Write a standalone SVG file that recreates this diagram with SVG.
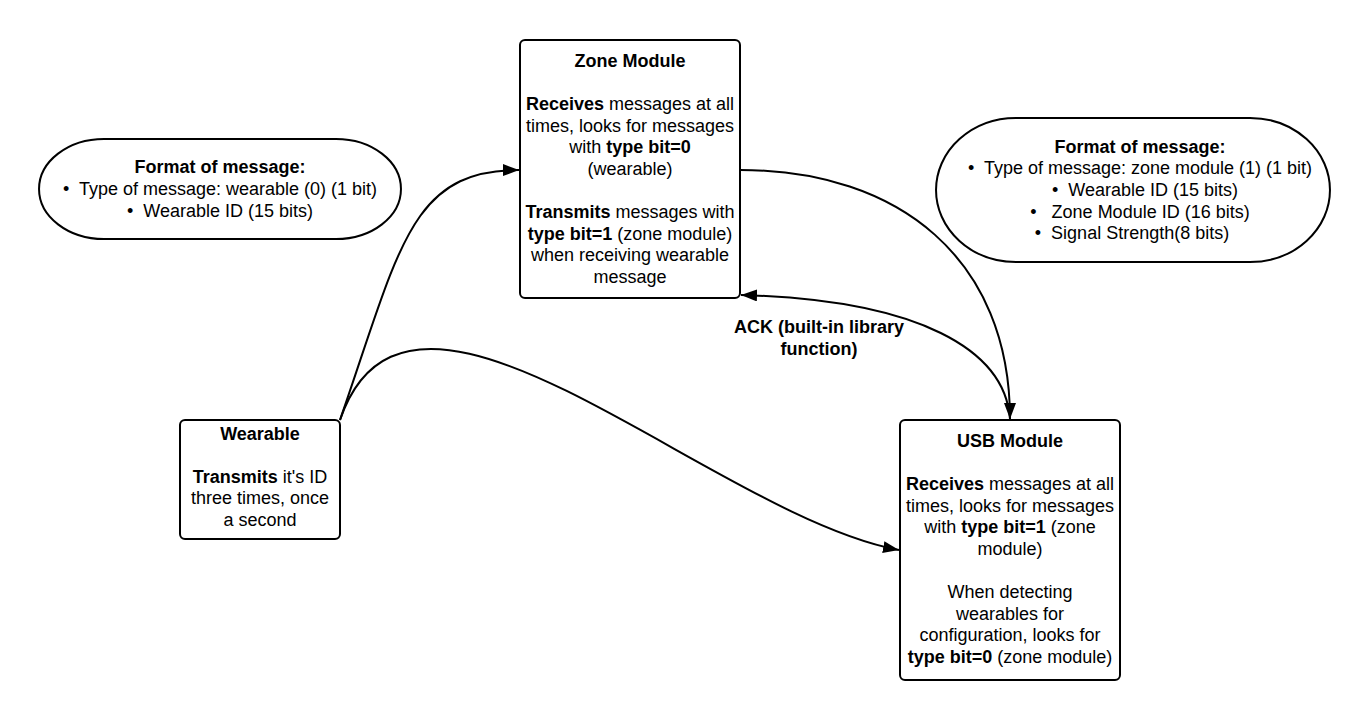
<svg xmlns="http://www.w3.org/2000/svg" width="1360" height="720" viewBox="0 0 1360 720">
<style>
text{font-family:"Liberation Sans",Arial,Helvetica,sans-serif;font-size:18px;fill:#000;text-anchor:middle}
.b{font-weight:bold}
.box{fill:#fff;stroke:#000;stroke-width:2}
.con{fill:none;stroke:#000;stroke-width:2}
</style>
<defs>
<marker id="arr" markerUnits="userSpaceOnUse" markerWidth="18" markerHeight="14" refX="16" refY="6" orient="auto">
<path d="M0,0 L16,6 L0,12 Z" fill="#000"/>
</marker>
</defs>
<rect width="1360" height="720" fill="#fff"/>
<g id="connectors">
<path class="con" d="M340,420 C400,247 410,170 519,170" marker-end="url(#arr)"/>
<path class="con" d="M340,420 C410,215 710,515 899,550" marker-end="url(#arr)"/>
<path class="con" d="M740,170 C900,170 1010,260 1010,419" marker-end="url(#arr)"/>
<path class="con" d="M1010,419 C1005,350 920,300 741,295" marker-end="url(#arr)"/>
<g id="ack-label">
<text class="b" x="819" y="333">ACK (built-in library</text>
<text class="b" x="819" y="355">function)</text>
</g>
</g>
<g id="format-wearable">
<path class="box" d="M104,139 H336 A65,50 0 0 1 336,239 H104 A65,50 0 0 1 104,139 Z"/>
<text class="b" x="220" y="173.4">Format of message:</text>
<text x="220" y="195" xml:space="preserve">•  Type of message: wearable (0) (1 bit)</text>
<text x="220" y="216.6" xml:space="preserve">•  Wearable ID (15 bits)</text>
</g>
<g id="format-zone">
<path class="box" d="M1016,118 H1250 A80,72 0 0 1 1250,262 H1016 A80,72 0 0 1 1016,118 Z"/>
<text class="b" x="1140" y="152.8">Format of message:</text>
<text x="1140" y="174.4" xml:space="preserve">•  Type of message: zone module (1) (1 bit)</text>
<text x="1145" y="196" xml:space="preserve">•  Wearable ID (15 bits)</text>
<text x="1140" y="217.6" xml:space="preserve">•   Zone Module ID (16 bits)</text>
<text x="1132" y="239.2" xml:space="preserve">•  Signal Strength(8 bits)</text>
</g>
<g id="zone-module">
<rect class="box" x="520" y="40" width="220" height="258" rx="5"/>
<text class="b" x="630" y="66.7">Zone Module</text>
<text x="630" y="110"><tspan class="b">Receives</tspan> messages at all</text>
<text x="630" y="131.5">times, looks for messages</text>
<text x="630" y="153">with <tspan class="b">type bit=0</tspan></text>
<text x="630" y="174.7">(wearable)</text>
<text x="630" y="218"><tspan class="b">Transmits</tspan> messages with</text>
<text x="630" y="239.5"><tspan class="b">type bit=1</tspan> (zone module)</text>
<text x="630" y="261">when receiving wearable</text>
<text x="630" y="282.7">message</text>
</g>
<g id="wearable">
<rect class="box" x="180" y="420" width="160" height="119" rx="5"/>
<text class="b" x="260" y="439.5">Wearable</text>
<text x="260" y="482.7"><tspan class="b">Transmits</tspan> it's ID</text>
<text x="260" y="504.3">three times, once</text>
<text x="260" y="525.9">a second</text>
</g>
<g id="usb-module">
<rect class="box" x="900" y="420" width="220" height="260" rx="5"/>
<text class="b" x="1010" y="447">USB Module</text>
<text x="1010" y="490.2"><tspan class="b">Receives</tspan> messages at all</text>
<text x="1010" y="511.8">times, looks for messages</text>
<text x="1010" y="533.4">with <tspan class="b">type bit=1</tspan> (zone</text>
<text x="1010" y="555">module)</text>
<text x="1010" y="598.2">When detecting</text>
<text x="1010" y="619.8">wearables for</text>
<text x="1010" y="641.4">configuration, looks for</text>
<text x="1010" y="663"><tspan class="b">type bit=0</tspan> (zone module)</text>
</g>
</svg>
